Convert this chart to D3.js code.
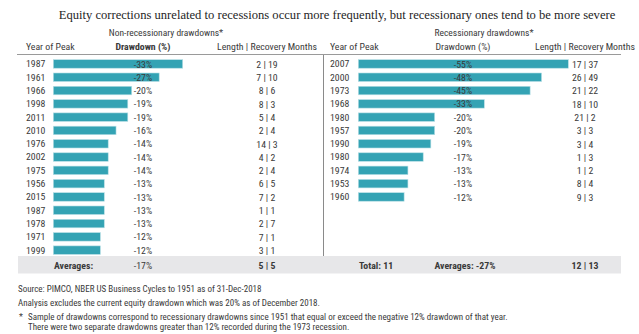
<!DOCTYPE html>
<html>
<head>
<meta charset="utf-8">
<script src="https://cdn.jsdelivr.net/npm/d3@7/dist/d3.min.js"></script>
<style>
  body { margin: 0; background: #fff; }
  svg text { font-family: "Roboto Condensed", "Liberation Sans Narrow", "DejaVu Sans Condensed", Roboto, sans-serif; fill: #3a3a3a; }
  .title { font-family: "Liberation Serif", "DejaVu Serif", serif !important; fill: #1e1e1e; }
</style>
</head>
<body>
<div id="chart"></div>
<script>
// non-recessionary drawdowns
var nonYears = ["1987","1961","1966","1998","2011","2010","1976","2002","1975","1956","2015","1987","1978","1971","1999"];
var nonDrawdown = [-33,-27,-20,-19,-19,-16,-14,-14,-14,-13,-13,-13,-13,-12,-12];
var nonLength = [2,7,8,8,5,2,14,4,2,6,7,1,2,7,3];
var nonRecovery = [19,10,6,3,4,4,3,2,4,5,2,1,7,1,1];

// recessionary drawdowns
var recYears = ["2007","2000","1973","1968","1980","1957","1990","1980","1974","1953","1960"];
var recDrawdown = [-55,-48,-45,-33,-20,-20,-19,-17,-13,-13,-12];
var recLength = [17,26,21,18,21,3,3,1,1,8,9];
var recRecovery = [37,49,22,10,2,3,4,3,2,4,3];

// summary row
var nonAverage = { drawdown: -17, length: 5, recovery: 5 };
var recAverage = { total: 11, drawdown: -27, length: 12, recovery: 13 };

var width = 639, height = 334;
var barColor = "#34a3b4";

var svg = d3.select("#chart").append("svg")
    .attr("width", width)
    .attr("height", height);

svg.append("text")
    .attr("class", "title")
    .attr("x", 337).attr("y", 19)
    .attr("text-anchor", "middle")
    .style("font-size", "12.6px")
    .style("font-weight", "500")
    .text("Equity corrections unrelated to recessions occur more frequently, but recessionary ones tend to be more severe");

// rows share one band scale so both panels line up
var y = d3.scaleBand()
    .domain(d3.range(15))
    .range([57.3, 256.8])
    .paddingInner(0.36)
    .paddingOuter(0.18);

function panel(opt) {
    var g = svg.append("g");
    var rows = opt.years.map(function(d, i) {
        return { year: d, dd: opt.drawdown[i], len: opt.length[i], rec: opt.recovery[i], i: i };
    });
    var x = d3.scaleLinear().domain([0, opt.max]).range([opt.barX, opt.barEnd]);

    g.append("text")
        .attr("x", opt.subX).attr("y", 36)
        .attr("text-anchor", "middle")
        .style("font-size", "9.5px")
        .text(opt.subtitle);

    var head = g.append("g").style("font-size", "9.8px");
    head.append("text").attr("x", opt.yearX).attr("y", 50).text("Year of Peak");
    head.append("text").attr("x", opt.labelX).attr("y", 50)
        .attr("text-anchor", "middle")
        .style("font-weight", opt.boldHead ? "bold" : "normal")
        .text("Drawdown (%)");
    head.append("text").attr("x", opt.lenX).attr("y", 50)
        .attr("text-anchor", "middle")
        .text("Length | Recovery Months");

    var row = g.selectAll(".row")
        .data(rows)
        .enter().append("g")
        .attr("class", "row")
        .style("font-size", "9.8px");

    row.append("rect")
        .attr("x", x(0))
        .attr("y", function(d) { return y(d.i); })
        .attr("height", y.bandwidth())
        .attr("width", function(d) { return x(-d.dd) - x(0); })
        .attr("fill", barColor)
        .attr("stroke", "#b9e0e6")
        .attr("stroke-width", 0.6);

    row.append("text")
        .attr("x", opt.yearX)
        .attr("y", function(d) { return y(d.i) + y.bandwidth() / 2 + 3.4; })
        .text(function(d) { return d.year; });

    row.append("text")
        .attr("x", opt.labelX)
        .attr("y", function(d) { return y(d.i) + y.bandwidth() / 2 + 3.6; })
        .attr("text-anchor", "middle")
        .text(function(d) { return d.dd + "%"; });

    row.append("text")
        .attr("x", opt.lenX)
        .attr("y", function(d) { return y(d.i) + y.bandwidth() / 2 + 3.8; })
        .attr("text-anchor", "middle")
        .text(function(d) { return d.len + " | " + d.rec; });
}

// summary band behind the averages
svg.append("rect")
    .attr("x", 18).attr("y", 256)
    .attr("width", 603).attr("height", 17.5)
    .attr("fill", "#e7e7e9");

panel({
    years: nonYears, drawdown: nonDrawdown, length: nonLength, recovery: nonRecovery,
    max: 33, barX: 53.3, barEnd: 182.7,
    subtitle: "Non-recessionary drawdowns*", subX: 166,
    yearX: 26, labelX: 143, lenX: 267, boldHead: true
});

panel({
    years: recYears, drawdown: recDrawdown, length: recLength, recovery: recRecovery,
    max: 55, barX: 358.3, barEnd: 568.3,
    subtitle: "Recessionary drawdowns*", subX: 484,
    yearX: 330, labelX: 463, lenX: 585, boldHead: false
});

// header rule and panel divider
svg.append("line")
    .attr("x1", 17).attr("x2", 621)
    .attr("y1", 54.5).attr("y2", 54.5)
    .attr("stroke", "#9a9a9a").attr("stroke-width", 1);
svg.append("line")
    .attr("x1", 323.5).attr("x2", 323.5)
    .attr("y1", 55).attr("y2", 256)
    .attr("stroke", "#8a8a8a").attr("stroke-width", 1);

var avg = svg.append("g").style("font-size", "9.8px").style("font-weight", "bold");
avg.append("text").attr("x", 54).attr("y", 268.5).text("Averages:");
avg.append("text").attr("x", 143).attr("y", 268.5).attr("text-anchor", "middle")
    .style("font-weight", "normal").text(nonAverage.drawdown + "%");
avg.append("text").attr("x", 267).attr("y", 268.5).attr("text-anchor", "middle")
    .text(nonAverage.length + " | " + nonAverage.recovery);
avg.append("text").attr("x", 359).attr("y", 268.5).text("Total: " + recAverage.total);
avg.append("text").attr("x", 465).attr("y", 268.5).attr("text-anchor", "middle")
    .text("Averages: " + recAverage.drawdown + "%");
avg.append("text").attr("x", 585).attr("y", 268.5).attr("text-anchor", "middle")
    .text(recAverage.length + " | " + recAverage.recovery);

// footnotes
var notes = svg.append("g").style("font-size", "9px");
notes.append("text").attr("x", 18).attr("y", 292)
    .text("Source: PIMCO, NBER US Business Cycles to 1951 as of 31-Dec-2018");
notes.append("text").attr("x", 18).attr("y", 306)
    .text("Analysis excludes the current equity drawdown which was 20% as of December 2018.");
notes.append("text").attr("x", 19).attr("y", 320).text("*");
notes.append("text").attr("x", 28).attr("y", 320)
    .text("Sample of drawdowns correspond to recessionary drawdowns since 1951 that equal or exceed the negative 12% drawdown of that year.");
notes.append("text").attr("x", 28).attr("y", 330)
    .text("There were two separate drawdowns greater than 12% recorded during the 1973 recession.");
</script>
</body>
</html>
